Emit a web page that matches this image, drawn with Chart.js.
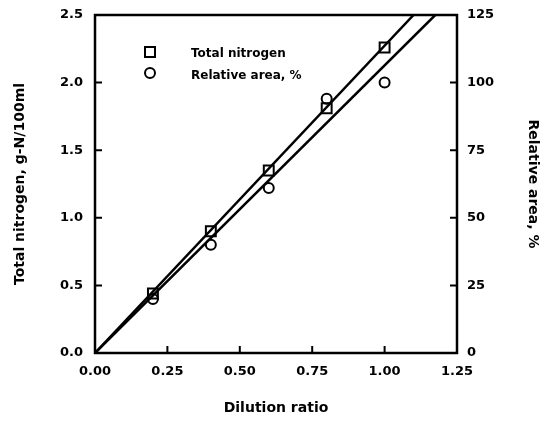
<!DOCTYPE html>
<html>
<head>
<meta charset="utf-8">
<script src="https://cdn.jsdelivr.net/npm/chart.js@4/dist/chart.umd.min.js"></script>
<style>
  html, body { margin: 0; padding: 0; background: #fff; }
  #wrap { width: 550px; height: 421px; position: relative; }
</style>
</head>
<body>
<div id="wrap"><canvas id="chart"></canvas></div>
<script>
// dilution ratios of the samples
const dilution = [0.2, 0.4, 0.6, 0.8, 1.0];
// total nitrogen, g-N/100ml (left axis)
const totalNitrogen = [0.44, 0.90, 1.35, 1.81, 2.26];
// relative area, % (right axis)
const relativeArea = [20, 40, 61, 94, 100];

// fitted lines, end points
const nitrogenFitX = [0, 1.10];
const nitrogenFitY = [0, 2.5];
const areaFitX = [0, 1.175];
const areaFitY = [0, 125];

const xTicks = [0, 0.25, 0.5, 0.75, 1.0, 1.25];
const leftTicks = [0, 0.5, 1.0, 1.5, 2.0, 2.5];
const rightTicks = [0, 25, 50, 75, 100, 125];

const FONT = "'DejaVu Sans', sans-serif";

const toPoints = (xs, ys) => xs.map((x, i) => ({ x: x, y: ys[i] }));

// keep the plot box where the reference has it
const noPad = s => { s.paddingTop = 0; s.paddingBottom = 0; s.paddingLeft = 0; s.paddingRight = 0; };

// inward tick marks + box + legend
const framePlugin = {
    id: "frame",
    afterDraw(chart) {
        const ctx = chart.ctx;
        const a = chart.chartArea;
        const sx = chart.scales.x, sl = chart.scales.yL, sr = chart.scales.yR;
        ctx.save();
        ctx.strokeStyle = "#000";
        ctx.lineWidth = 2.5;
        ctx.strokeRect(a.left, a.top, a.right - a.left, a.bottom - a.top);

        ctx.lineWidth = 2;
        ctx.beginPath();
        xTicks.forEach(v => {
            const px = sx.getPixelForValue(v);
            ctx.moveTo(px, a.bottom); ctx.lineTo(px, a.bottom - 7);
        });
        leftTicks.forEach(v => {
            const py = sl.getPixelForValue(v);
            ctx.moveTo(a.left, py); ctx.lineTo(a.left + 7, py);
        });
        rightTicks.forEach(v => {
            const py = sr.getPixelForValue(v);
            ctx.moveTo(a.right, py); ctx.lineTo(a.right - 7, py);
        });
        ctx.stroke();

        // legend
        ctx.lineWidth = 2;
        ctx.fillStyle = "#fff";
        ctx.beginPath();
        ctx.rect(145, 47, 10, 10);
        ctx.fill(); ctx.stroke();
        ctx.beginPath();
        ctx.arc(150, 73, 5, 0, Math.PI * 2);
        ctx.fill(); ctx.stroke();
        ctx.fillStyle = "#000";
        ctx.font = "bold 12px " + FONT;
        ctx.textBaseline = "middle";
        ctx.textAlign = "left";
        ctx.fillText("Total nitrogen", 191, 54);
        ctx.fillText("Relative area, %", 191, 76);
        ctx.restore();
    }
};

new Chart(document.getElementById("chart"), {
    type: "scatter",
    data: {
        datasets: [
            {
                label: "Total nitrogen fit",
                type: "line",
                data: toPoints(nitrogenFitX, nitrogenFitY),
                yAxisID: "yL",
                borderColor: "#000",
                borderWidth: 2.5,
                pointRadius: 0,
                fill: false,
            },
            {
                label: "Relative area fit",
                type: "line",
                data: toPoints(areaFitX, areaFitY),
                yAxisID: "yR",
                borderColor: "#000",
                borderWidth: 2.5,
                pointRadius: 0,
                fill: false,
            },
            {
                label: "Total nitrogen",
                data: toPoints(dilution, totalNitrogen),
                yAxisID: "yL",
                pointStyle: "rect",
                pointRadius: 7,
                borderColor: "#000",
                backgroundColor: "rgba(255,255,255,0)",
                borderWidth: 2,
            },
            {
                label: "Relative area, %",
                data: toPoints(dilution, relativeArea),
                yAxisID: "yR",
                pointStyle: "circle",
                pointRadius: 5,
                borderColor: "#000",
                backgroundColor: "rgba(255,255,255,0)",
                borderWidth: 2,
            },
        ],
    },
    options: {
        responsive: true,
        maintainAspectRatio: false,
        animation: false,
        layout: { padding: { top: 15, left: 0, right: 0, bottom: 0 } },
        plugins: {
            legend: { display: false },
            tooltip: { enabled: false },
        },
        scales: {
            x: {
                type: "linear",
                min: 0, max: 1.25,
                afterBuildTicks: s => { s.ticks = xTicks.map(v => ({ value: v })); },
                afterFit: s => { s.height = 68; noPad(s); },
                grid: { display: false, drawTicks: false },
                border: { display: false },
                ticks: {
                    padding: 11,
                    color: "#000",
                    font: { family: FONT, size: 13, weight: "bold" },
                    callback: v => v.toFixed(2),
                },
                title: {
                    display: true,
                    text: "Dilution ratio",
                    color: "#000",
                    padding: { top: 4, bottom: 4 },
                    font: { family: FONT, size: 14, weight: "bold" },
                },
            },
            yL: {
                type: "linear",
                position: "left",
                min: 0, max: 2.5,
                afterBuildTicks: s => { s.ticks = leftTicks.map(v => ({ value: v })); },
                afterFit: s => { s.width = 95; noPad(s); },
                grid: { display: false, drawTicks: false },
                border: { display: false },
                ticks: {
                    padding: 12,
                    color: "#000",
                    font: { family: FONT, size: 13, weight: "bold" },
                    callback: v => v.toFixed(1),
                },
                title: {
                    display: true,
                    text: "Total nitrogen, g-N/100ml",
                    color: "#000",
                    padding: { top: 12 },
                    font: { family: FONT, size: 14, weight: "bold" },
                },
            },
            yR: {
                type: "linear",
                position: "right",
                min: 0, max: 125,
                afterBuildTicks: s => { s.ticks = rightTicks.map(v => ({ value: v })); },
                afterFit: s => { s.width = 93; noPad(s); },
                grid: { display: false, drawTicks: false },
                border: { display: false },
                ticks: {
                    padding: 10,
                    color: "#000",
                    font: { family: FONT, size: 13, weight: "bold" },
                },
                title: {
                    display: true,
                    text: "Relative area, %",
                    color: "#000",
                    padding: { top: 9 },
                    font: { family: FONT, size: 14, weight: "bold" },
                },
            },
        },
    },
    plugins: [framePlugin],
});
</script>
</body>
</html>
